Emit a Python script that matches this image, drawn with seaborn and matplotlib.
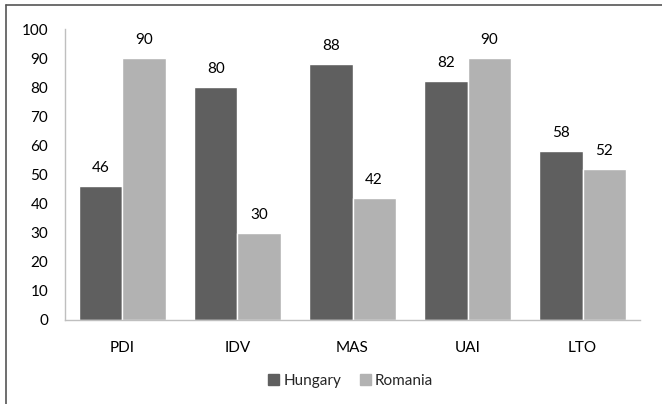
import matplotlib
matplotlib.use("Agg")
import matplotlib.pyplot as plt
import seaborn as sns
import pandas as pd
from matplotlib.lines import Line2D

categories = ["PDI", "IDV", "MAS", "UAI", "LTO"]
hungary = [46, 80, 88, 82, 58]
romania = [90, 30, 42, 90, 52]
series_names = ["Hungary", "Romania"]
yticks = list(range(0, 101, 10))

df = pd.DataFrame({
    "dim": categories * 2,
    "value": hungary + romania,
    "country": [series_names[0]] * len(categories) + [series_names[1]] * len(categories),
})

sns.set_theme(style="white")
plt.rcParams["font.family"] = ["Lato", "DejaVu Sans"]

fig = plt.figure(figsize=(6.62, 4.04), dpi=100)
ax = fig.add_axes([0.098, 0.208, 0.869, 0.720])

sns.barplot(data=df, x="dim", y="value", hue="country", order=categories,
            hue_order=series_names, palette=["#5f5f5f", "#b2b2b2"],
            width=0.75, saturation=1, ax=ax, errorbar=None)

for c in ax.containers:
    ax.bar_label(c, fmt="%d", padding=8, fontsize=11, color="#000000")

ax.set_ylim(0, 100)
ax.set_xlim(-0.5, 4.5)
ax.set_yticks(yticks)
ax.set_xlabel("")
ax.set_ylabel("")
ax.tick_params(axis="y", length=0, pad=12, labelsize=11, colors="#000000")
ax.tick_params(axis="x", length=0, pad=15, labelsize=11, colors="#000000")
for s in ["top", "right"]:
    ax.spines[s].set_visible(False)
for s in ["left", "bottom"]:
    ax.spines[s].set_color("#bfbfbf")
    ax.spines[s].set_linewidth(1.0)

ax.legend_.remove()
handles = [plt.Rectangle((0, 0), 1, 1, color="#5f5f5f"),
           plt.Rectangle((0, 0), 1, 1, color="#b2b2b2")]
fig.legend(handles, series_names, loc="center", bbox_to_anchor=(0.53, 0.057),
           ncol=2, frameon=False, fontsize=11, handlelength=0.7, handleheight=0.7,
           handletextpad=0.3, columnspacing=1.2)

# outer frame lines (top and left)
fig.add_artist(Line2D([0.009, 1.0], [0.988, 0.988], transform=fig.transFigure, color="#555555", lw=1.2))
fig.add_artist(Line2D([0.009, 0.009], [0.0, 0.988], transform=fig.transFigure, color="#555555", lw=1.2))

fig.savefig("out.png", dpi=100)
